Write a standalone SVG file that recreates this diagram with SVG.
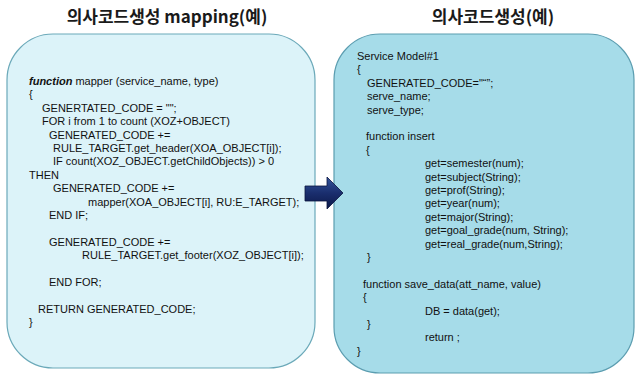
<svg xmlns="http://www.w3.org/2000/svg" width="636" height="374" viewBox="0 0 636 374">
<defs>
<linearGradient id="ag" x1="0" y1="0" x2="0" y2="1">
<stop offset="0" stop-color="#34559c"/>
<stop offset="0.5" stop-color="#1a2e6e"/>
<stop offset="1" stop-color="#0c1848"/>
</linearGradient>
<style>
.t{font-family:"Noto Sans CJK KR","Liberation Sans",sans-serif;font-size:17px;font-weight:bold;fill:#1a1a1a;text-anchor:middle}
.c{font-family:"Liberation Sans",Arial,sans-serif;font-size:11px;fill:#111}
.b1{fill:#dcf3f9;stroke:#6ba9b9;stroke-width:1.2}
.b2{fill:#a6dce9;stroke:#5b9db0;stroke-width:1.2}
</style>
</defs>
<g id="title-left"><text class="t" x="167" y="23">의사코드생성 mapping(예)</text></g>
<g id="title-right"><text class="t" x="493" y="23">의사코드생성(예)</text></g>
<g id="node-mapping">
<rect class="b1" x="7" y="34" width="308" height="334" rx="46" ry="46"/>
<text class="c" x="29" y="85"><tspan font-weight="bold" font-style="italic">function</tspan> mapper (service_name, type)</text>
<text class="c" x="29" y="98.4">{</text>
<text class="c" x="42" y="111.8">GENERTATED_CODE = "";</text>
<text class="c" x="42" y="125.2">FOR i from 1 to count (XOZ+OBJECT)</text>
<text class="c" x="49" y="138.6">GENERATED_CODE +=</text>
<text class="c" x="53" y="152">RULE_TARGET.get_header(XOA_OBJECT[i]);</text>
<text class="c" x="53" y="165.4">IF count(XOZ_OBJECT.getChildObjects)) &gt; 0</text>
<text class="c" x="29" y="178.8">THEN</text>
<text class="c" x="53" y="192.2">GENERATED_CODE +=</text>
<text class="c" x="88" y="205.6">mapper(XOA_OBJECT[i], RU:E_TARGET);</text>
<text class="c" x="49" y="219">END IF;</text>
<text class="c" x="49" y="245.8">GENERATED_CODE +=</text>
<text class="c" x="82" y="259.2">RULE_TARGET.get_footer(XOZ_OBJECT[i]);</text>
<text class="c" x="49" y="286">END FOR;</text>
<text class="c" x="38" y="312.8">RETURN GENERATED_CODE;</text>
<text class="c" x="29" y="326.2">}</text>
</g>
<g id="node-generated">
<rect class="b2" x="334" y="34" width="300" height="339" rx="46" ry="46"/>
<text class="c" x="357" y="60">Service Model#1</text>
<text class="c" x="357" y="73.4">{</text>
<text class="c" x="367" y="86.8">GENERATED_CODE="“”;</text>
<text class="c" x="367" y="100.2">serve_name;</text>
<text class="c" x="367" y="113.6">serve_type;</text>
<text class="c" x="366" y="140.4">function insert</text>
<text class="c" x="366" y="153.8">{</text>
<text class="c" x="425" y="167.2">get=semester(num);</text>
<text class="c" x="425" y="180.6">get=subject(String);</text>
<text class="c" x="425" y="194">get=prof(String);</text>
<text class="c" x="425" y="207.4">get=year(num);</text>
<text class="c" x="425" y="220.8">get=major(String);</text>
<text class="c" x="425" y="234.2">get=goal_grade(num, String);</text>
<text class="c" x="425" y="247.6">get=real_grade(num,String);</text>
<text class="c" x="367" y="261">}</text>
<text class="c" x="363" y="287.8">function save_data(att_name, value)</text>
<text class="c" x="363" y="301.2">{</text>
<text class="c" x="425" y="314.6">DB = data(get);</text>
<text class="c" x="367" y="328">}</text>
<text class="c" x="425" y="341.4">return ;</text>
<text class="c" x="357" y="354.8">}</text>
</g>
<g id="connectors">
<path d="M305,186 H327 V177 L343,193 L327,209 V201 H305 Z" fill="url(#ag)" stroke="#0a1440" stroke-width="0.8"/>
</g>
</svg>
